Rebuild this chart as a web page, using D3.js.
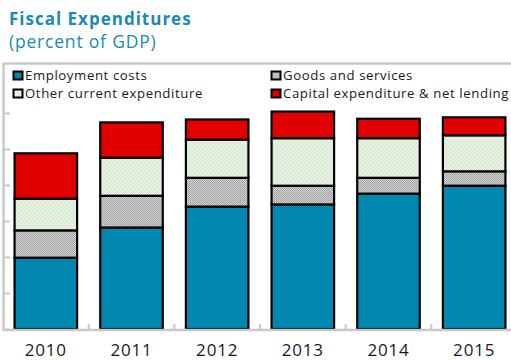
<!DOCTYPE html>
<html>
<head>
<meta charset="utf-8">
<script src="https://cdn.jsdelivr.net/npm/d3@7"></script>
<style>
  html, body { margin: 0; padding: 0; background: #fff; }
  svg { display: block; font-family: "Open Sans", "Noto Sans", sans-serif; }
</style>
</head>
<body>
<svg id="chart" width="511" height="360"></svg>
<script>
// Fiscal expenditures by component, percent of GDP
const years = ["2010", "2011", "2012", "2013", "2014", "2015"];
const employmentCosts = [9.9, 14.1, 17.0, 17.3, 18.8, 19.9];
const goodsServices   = [3.8, 4.4, 4.0, 2.6, 2.2, 2.0];
const otherCurrent    = [4.4, 5.3, 5.3, 6.6, 5.5, 5.0];
const capitalNetLend  = [6.3, 4.9, 2.8, 3.7, 2.7, 2.5];
const seriesNames = ["Employment costs", "Goods and services", "Other current expenditure", "Capital expenditure & net lending"];
const yTicks = [0, 5, 10, 15, 20, 25, 30, 35];

const svg = d3.select("#chart");

// fills: solid blue, dotted grey, hatched pale green, solid red
const defs = svg.append("defs");
const dots = defs.append("pattern").attr("id", "dots").attr("patternUnits", "userSpaceOnUse")
  .attr("width", 2).attr("height", 2);
dots.append("rect").attr("width", 2).attr("height", 2).attr("fill", "#d4d4d4");
dots.append("rect").attr("width", 1).attr("height", 1).attr("fill", "#9a9a9a");
dots.append("rect").attr("x", 1).attr("y", 1).attr("width", 1).attr("height", 1).attr("fill", "#a8a8a8");

const hatch = defs.append("pattern").attr("id", "hatch").attr("patternUnits", "userSpaceOnUse")
  .attr("width", 4).attr("height", 4);
hatch.append("rect").attr("width", 4).attr("height", 4).attr("fill", "#e6f1e1");
hatch.append("path").attr("d", "M0,4 L4,0 M-1,1 L1,-1 M3,5 L5,3")
  .attr("stroke", "#d2e3cb").attr("stroke-width", 1);

const fills = ["#0088b0", "url(#dots)", "url(#hatch)", "#e00000"];
const swatchFills = ["#0088b0", "#bdbdbd", "#e6f1e1", "#e00000"];

const table = years.map((y, i) => ({
  year: y,
  s0: employmentCosts[i],
  s1: goodsServices[i],
  s2: otherCurrent[i],
  s3: capitalNetLend[i]
}));
const stacked = d3.stack().keys(["s0", "s1", "s2", "s3"])(table);

const plotLeft = 3, plotRight = 517, plotBottom = 329, plotTop = 77;
const x = d3.scaleBand().domain(years).range([plotLeft, plotRight])
  .paddingInner(0.27).paddingOuter(0.135);
const y = d3.scaleLinear().domain([0, 35]).range([plotBottom, plotTop]);

// title block
svg.append("text").attr("x", 9).attr("y", 25)
  .attr("font-size", 17).attr("font-weight", 700).attr("fill", "#1a8ab4")
  .attr("letter-spacing", 1.0)
  .text("Fiscal Expenditures");
svg.append("text").attr("x", 9).attr("y", 48)
  .attr("font-size", 17.5).attr("fill", "#1a8ab4")
  .attr("letter-spacing", 0.8)
  .text("(percent of GDP)");

// y axis: inward ticks, no labels
const yAxis = svg.append("g").attr("transform", `translate(${plotLeft + 1},0)`)
  .call(d3.axisRight(y).tickValues(yTicks).tickSize(6).tickFormat(""));
yAxis.select(".domain").remove();
yAxis.selectAll(".tick line").attr("stroke", "#c8c8c8").attr("stroke-width", 2);

// stacked bars
svg.append("g").selectAll("g").data(stacked).join("g")
  .attr("fill", (d, i) => fills[i])
  .selectAll("rect").data(d => d).join("rect")
  .attr("x", d => x(d.data.year))
  .attr("width", x.bandwidth())
  .attr("y", d => y(d[1]))
  .attr("height", d => y(d[0]) - y(d[1]))
  .attr("stroke", "#000").attr("stroke-width", 2.2);

// x axis: baseline with short separators between categories
const xAxis = svg.append("g").attr("transform", `translate(0,${plotBottom + 1})`);
xAxis.append("line").attr("x1", plotLeft).attr("x2", 511)
  .attr("stroke", "#c8c8c8").attr("stroke-width", 2.5);
xAxis.selectAll("line.sep").data(years.slice(1)).join("line").attr("class", "sep")
  .attr("x1", d => x(d) - x.step() * x.paddingInner() / 2)
  .attr("x2", d => x(d) - x.step() * x.paddingInner() / 2)
  .attr("y1", 0).attr("y2", -6)
  .attr("stroke", "#c8c8c8").attr("stroke-width", 2);
xAxis.selectAll("text").data(years).join("text")
  .attr("x", d => x(d) + x.bandwidth() / 2)
  .attr("y", 25.5)
  .attr("text-anchor", "middle").attr("font-size", 17).attr("fill", "#1a1a1a")
  .attr("letter-spacing", 0.8)
  .text(d => d);

// legend box and frame lines
svg.append("rect").attr("x", plotLeft).attr("y", 63.5).attr("width", 520).attr("height", 40)
  .attr("fill", "#fff");
svg.append("line").attr("x1", plotLeft + 0.5).attr("x2", plotLeft + 0.5)
  .attr("y1", 63).attr("y2", plotBottom + 2)
  .attr("stroke", "#c8c8c8").attr("stroke-width", 2.5);
svg.append("line").attr("x1", plotLeft).attr("x2", 511)
  .attr("y1", 63.5).attr("y2", 63.5)
  .attr("stroke", "#c8c8c8").attr("stroke-width", 2.5);

const legendPos = [[13, 71], [271, 71], [13, 89], [271, 89]];
const legendOrder = [0, 1, 2, 3];
const lg = svg.append("g").selectAll("g").data(legendOrder).join("g")
  .attr("transform", (d, i) => `translate(${legendPos[i][0]},${legendPos[i][1]})`);
lg.append("rect").attr("x", 0.5).attr("y", 0.5).attr("width", 9).attr("height", 8)
  .attr("fill", d => swatchFills[d]).attr("stroke", "#000").attr("stroke-width", 2);
lg.append("text").attr("x", 12).attr("y", 8.5)
  .attr("font-size", 13.2).attr("fill", "#1a1a1a")
  .attr("letter-spacing", 0.6)
  .text(d => seriesNames[d]);
</script>
</body>
</html>
